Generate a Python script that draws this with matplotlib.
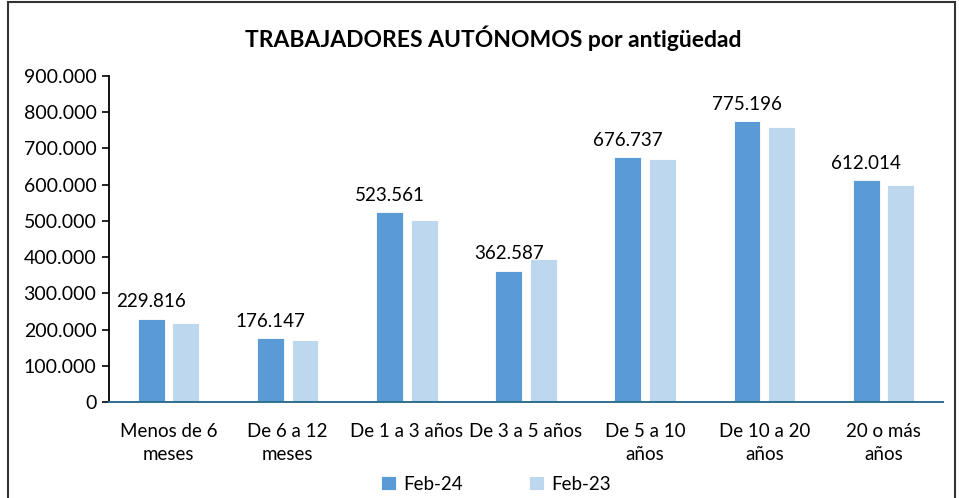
import numpy as np
import matplotlib
matplotlib.use("Agg")
from matplotlib import pyplot as plt
from matplotlib.patches import Rectangle

plt.rcParams['font.family'] = ['Lato', 'DejaVu Sans']

categories = ['Menos de 6\nmeses', 'De 6 a 12\nmeses', 'De 1 a 3 años', 'De 3 a 5 años',
              'De 5 a 10\naños', 'De 10 a 20\naños', '20 o más\naños']
feb24 = [229816, 176147, 523561, 362587, 676737, 775196, 612014]
feb23 = [217000, 171000, 502000, 395000, 672000, 759000, 598000]
yticks = [0, 100000, 200000, 300000, 400000, 500000, 600000, 700000, 800000, 900000]


def fmt(v):
    return f'{v:,.0f}'.replace(',', '.')


fig = plt.figure(figsize=(9.59, 4.98), dpi=100)
ax = fig.add_axes([109 / 959, 1 - 402 / 498, (943 - 109) / 959, (402 - 76) / 498])

x = np.arange(len(categories))
w = 0.225
gap = 0.065
ax.bar(x - (w + gap) / 2, feb24, w, color='#5B9BD5', edgecolor='white', linewidth=0.6, label='Feb-24')
ax.bar(x + (w + gap) / 2, feb23, w, color='#BDD7EE', edgecolor='white', linewidth=0.6, label='Feb-23')

for xi, v in zip(x, feb24):
    ax.annotate(fmt(v), (xi - (w + gap) / 2, v), xytext=(0, 6), textcoords='offset points',
                ha='center', va='bottom', fontsize=13.5, color='black')

ax.set_xlim(-0.5, len(categories) - 0.5)
ax.set_ylim(0, 900000)
ax.set_yticks(yticks)
ax.set_yticklabels([fmt(v) for v in yticks], fontsize=14)
ax.set_xticks(x)
ax.set_xticklabels(categories, fontsize=13.5, linespacing=1.45)
ax.tick_params(axis='x', length=0, pad=15)
ax.tick_params(axis='y', length=5, width=1.2, color='black', pad=4)

for s in ['top', 'right']:
    ax.spines[s].set_visible(False)
ax.spines['left'].set_linewidth(1.3)
ax.spines['left'].set_color('black')
ax.spines['bottom'].set_color('#2E6F8E')
ax.spines['bottom'].set_linewidth(1.4)

fig.text(493 / 959, 1 - 38 / 498, 'TRABAJADORES AUTÓNOMOS por antigüedad', ha='center', va='center',
         fontsize=16.5, fontweight='bold')

fig.legend(loc='center', bbox_to_anchor=(496 / 959, 1 - 484 / 498), ncol=2, frameon=False,
           fontsize=13.5, handlelength=0.8, handleheight=0.8, columnspacing=3.5, handletextpad=0.4)

fig.patches.append(Rectangle((8 / 959, -0.05), (955 - 8) / 959, 1.05 - 2 / 498, transform=fig.transFigure,
                             fill=False, edgecolor='#333333', linewidth=1.5))

fig.savefig('out.png', dpi=100)
